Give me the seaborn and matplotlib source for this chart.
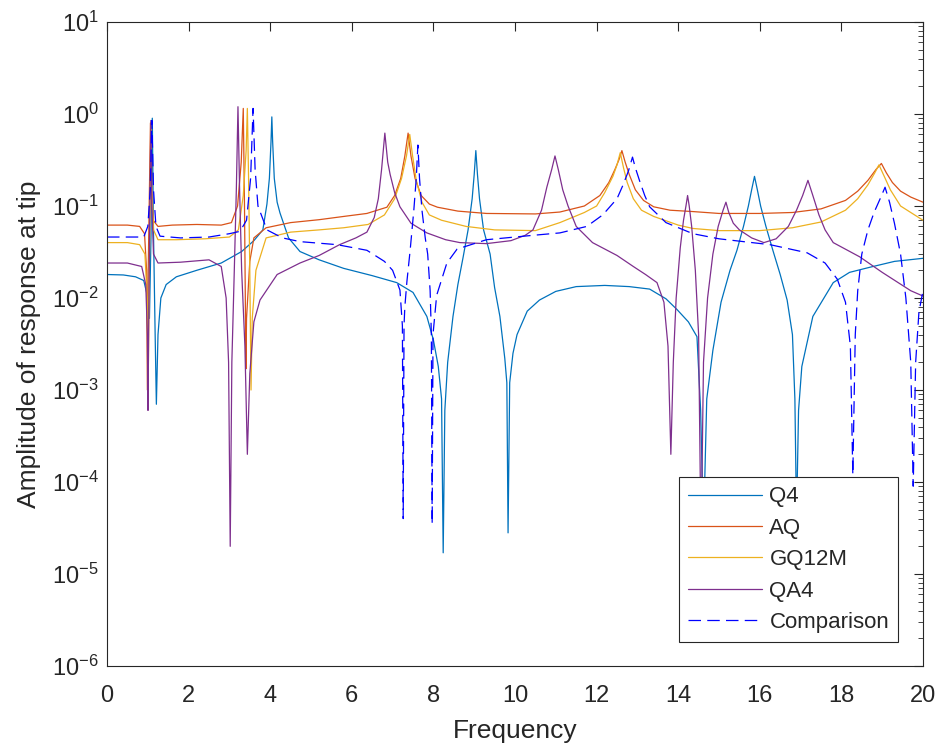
import numpy as np
import matplotlib
matplotlib.use("Agg")
import matplotlib.pyplot as plt
import seaborn as sns
from matplotlib.ticker import LogLocator, NullFormatter

# ---------------- data ----------------
q4_f = [0.0, 0.4, 0.7, 0.9, 0.98, 1.04, 1.08, 1.11, 1.14, 1.18, 1.21, 1.25, 1.32, 1.45, 1.7,
        2.2, 2.8, 3.3, 3.6, 3.82, 3.92, 3.98, 4.02, 4.04, 4.06, 4.1, 4.17, 4.24, 4.45, 4.73,
        5.2, 5.8, 6.5, 7.1, 7.5, 7.84, 8.0, 8.12, 8.2, 8.24, 8.28, 8.35, 8.48, 8.6, 8.73,
        8.85, 8.95, 9.0, 9.04, 9.08, 9.13, 9.23, 9.39, 9.5, 9.63, 9.75, 9.8, 9.83, 9.87, 9.95,
        10.05, 10.3, 10.6, 11.0, 11.5, 12.2, 12.8, 13.3, 13.7, 13.97, 14.25, 14.46, 14.55,
        14.62, 14.7, 14.85, 15.05, 15.27, 15.44, 15.6, 15.72, 15.8, 15.87, 15.94, 16.02,
        16.15, 16.32, 16.5, 16.67, 16.8, 16.86, 16.9, 16.95, 17.03, 17.3, 17.8, 18.2, 18.7,
        19.3, 20.0]
q4_v = [0.018, 0.0178, 0.017, 0.0155, 0.011, 0.006, 0.05, 0.9, 0.05, 0.004, 0.0007, 0.004,
        0.01, 0.014, 0.017, 0.02, 0.024, 0.032, 0.042, 0.055, 0.105, 0.2, 0.5, 0.93, 0.5,
        0.2, 0.11, 0.084, 0.045, 0.032, 0.026, 0.021, 0.0175, 0.0147, 0.0115, 0.0063, 0.0035,
        0.0018, 0.0008, 1.7e-5, 0.0006, 0.002, 0.0063, 0.014, 0.028, 0.055, 0.12, 0.22, 0.4,
        0.22, 0.12, 0.055, 0.03, 0.013, 0.0063, 0.0022, 0.0012, 2.8e-5, 0.0012, 0.0025,
        0.004, 0.0072, 0.0095, 0.0118, 0.0133, 0.0137, 0.0133, 0.0125, 0.0098, 0.0075, 0.0055,
        0.0038, 0.0006, 3e-5, 0.0008, 0.0027, 0.009, 0.02, 0.033, 0.06, 0.1, 0.15, 0.21, 0.15,
        0.1, 0.06, 0.033, 0.018, 0.0095, 0.004, 0.0008, 4e-5, 0.0006, 0.0018, 0.0063, 0.0147,
        0.019, 0.0216, 0.025, 0.027]

aq_f = [0.0, 0.5, 0.8, 0.92, 0.97, 0.99, 1.01, 1.04, 1.065, 1.09, 1.13, 1.25, 1.6, 2.2, 2.8,
        3.05, 3.2, 3.29, 3.34, 3.37, 3.39, 3.405, 3.42, 3.5, 3.6, 3.9, 4.5, 5.2, 5.8, 6.37,
        6.86, 7.05, 7.2, 7.3, 7.38, 7.45, 7.55, 7.7, 7.9, 8.1, 8.6, 9.3, 10.5, 11.1, 11.7,
        12.08, 12.3, 12.45, 12.55, 12.62, 12.7, 12.8, 12.95, 13.15, 13.4, 13.8, 14.36, 15.0,
        16.0, 16.8, 17.5, 18.1, 18.4, 18.65, 18.85, 18.98, 19.1, 19.25, 19.45, 19.7, 20.0]
aq_v = [0.062, 0.062, 0.06, 0.05, 0.02, 0.001, 0.02, 0.15, 0.8, 0.15, 0.07, 0.06, 0.062,
        0.063, 0.062, 0.066, 0.1, 0.3, 1.15, 0.1, 0.01, 0.0017, 0.006, 0.025, 0.045, 0.058,
        0.066, 0.071, 0.077, 0.083, 0.097, 0.13, 0.2, 0.35, 0.62, 0.35, 0.2, 0.13, 0.105,
        0.097, 0.088, 0.083, 0.082, 0.086, 0.1, 0.13, 0.18, 0.25, 0.32, 0.4, 0.3, 0.22, 0.15,
        0.115, 0.098, 0.09, 0.087, 0.083, 0.083, 0.085, 0.093, 0.115, 0.145, 0.19, 0.25,
        0.29, 0.23, 0.18, 0.145, 0.125, 0.11]

gq_f = [0.0, 0.5, 0.8, 0.93, 0.985, 1.01, 1.03, 1.06, 1.08, 1.1, 1.14, 1.25, 1.7, 2.4, 3.0,
        3.22, 3.34, 3.41, 3.44, 3.47, 3.5, 3.53, 3.56, 3.65, 3.9, 4.5, 5.2, 5.8, 6.4, 6.8,
        7.05, 7.22, 7.34, 7.42, 7.49, 7.58, 7.72, 7.9, 8.2, 8.8, 9.5, 10.5, 11.1, 11.7, 12.0,
        12.2, 12.4, 12.5, 12.58, 12.66, 12.75, 12.9, 13.1, 13.4, 14.0, 14.36, 15.0, 16.0,
        16.8, 17.5, 18.1, 18.4, 18.65, 18.82, 18.92, 19.05, 19.2, 19.45, 19.7, 20.0]
gq_v = [0.04, 0.04, 0.038, 0.03, 0.01, 0.0012, 0.01, 0.15, 0.75, 0.15, 0.055, 0.043, 0.043,
        0.044, 0.046, 0.055, 0.13, 0.4, 1.15, 0.2, 0.02, 0.001, 0.006, 0.02, 0.045, 0.052,
        0.055, 0.058, 0.063, 0.08, 0.12, 0.2, 0.35, 0.6, 0.35, 0.19, 0.11, 0.08, 0.07, 0.06,
        0.055, 0.054, 0.066, 0.085, 0.1, 0.14, 0.21, 0.28, 0.38, 0.26, 0.18, 0.12, 0.09,
        0.077, 0.062, 0.057, 0.054, 0.054, 0.058, 0.067, 0.09, 0.12, 0.17, 0.23, 0.28, 0.21,
        0.15, 0.1, 0.085, 0.07]

qa_f = [0.0, 0.5, 0.85, 0.95, 0.99, 1.005, 1.02, 1.05, 1.075, 1.1, 1.14, 1.25, 1.8, 2.5, 2.8,
        2.92, 2.98, 3.02, 3.06, 3.12, 3.17, 3.21, 3.25, 3.3, 3.38, 3.44, 3.5, 3.6, 3.75, 4.17,
        4.73, 5.2, 5.7, 6.1, 6.37, 6.55, 6.65, 6.73, 6.81, 6.88, 6.94, 7.05, 7.18, 7.45, 7.84,
        8.3, 8.65, 9.3, 9.9, 10.25, 10.44, 10.65, 10.78, 10.9, 10.98, 11.06, 11.17, 11.3,
        11.5, 11.9, 12.5, 12.9, 13.2, 13.48, 13.65, 13.75, 13.82, 13.88, 13.95, 14.05, 14.13,
        14.19, 14.23, 14.27, 14.33, 14.42, 14.5, 14.56, 14.62, 14.72, 14.85, 14.98, 15.1,
        15.17, 15.24, 15.35, 15.5, 15.8, 16.1, 16.4, 16.7, 16.9, 17.05, 17.18, 17.3, 17.45,
        17.6, 17.8, 18.45, 19.0, 19.7, 20.0]
qa_v = [0.024, 0.024, 0.022, 0.014, 0.004, 0.0006, 0.004, 0.1, 0.85, 0.1, 0.03, 0.024,
        0.0245, 0.026, 0.022, 0.01, 0.002, 2e-5, 0.002, 0.02, 0.15, 1.2, 0.15, 0.02, 0.003,
        0.0002, 0.0015, 0.0055, 0.0095, 0.018, 0.024, 0.029, 0.038, 0.045, 0.052, 0.075,
        0.12, 0.25, 0.62, 0.3, 0.22, 0.14, 0.098, 0.065, 0.051, 0.043, 0.04, 0.039, 0.042,
        0.048, 0.055, 0.09, 0.16, 0.25, 0.35, 0.25, 0.15, 0.1, 0.06, 0.04, 0.029, 0.022,
        0.018, 0.0147, 0.009, 0.003, 0.0002, 0.002, 0.01, 0.035, 0.07, 0.1, 0.13, 0.1, 0.06,
        0.02, 0.004, 2e-5, 0.002, 0.01, 0.03, 0.06, 0.09, 0.11, 0.085, 0.065, 0.055, 0.045,
        0.04, 0.044, 0.06, 0.09, 0.13, 0.19, 0.13, 0.08, 0.055, 0.04, 0.028, 0.019, 0.012,
        0.0105]

cmp_f = [0.0, 0.5, 0.9, 1.0, 1.06, 1.1, 1.14, 1.2, 1.3, 1.8, 2.5, 3.0, 3.26, 3.42, 3.52, 3.58,
         3.63, 3.7, 3.92, 4.3, 4.73, 5.64, 6.37, 6.8, 7.0, 7.18, 7.24, 7.26, 7.28, 7.3, 7.35,
         7.43, 7.52, 7.58, 7.62, 7.66, 7.72, 7.8, 7.86, 7.92, 7.95, 7.97, 7.99, 8.08, 8.33,
         8.58, 9.3, 10.44, 11.1, 11.76, 12.15, 12.5, 12.65, 12.78, 12.88, 12.95, 13.05, 13.18,
         13.3, 13.7, 14.36, 15.0, 15.6, 16.25, 17.16, 17.6, 17.9, 18.1, 18.22, 18.28, 18.34,
         18.4, 18.5, 18.65, 18.8, 18.95, 19.07, 19.18, 19.3, 19.45, 19.58, 19.7, 19.76, 19.82,
         19.9, 20.0]
cmp_v = [0.046, 0.046, 0.046, 0.06, 0.15, 0.85, 0.15, 0.06, 0.047, 0.045, 0.046, 0.05, 0.053,
         0.07, 0.2, 1.15, 0.25, 0.1, 0.055, 0.045, 0.041, 0.038, 0.033, 0.025, 0.02, 0.0122,
         0.005, 4e-5, 0.005, 0.008, 0.015, 0.033, 0.09, 0.2, 0.46, 0.2, 0.09, 0.045, 0.03,
         0.012, 0.004, 3.5e-5, 0.004, 0.0107, 0.024, 0.034, 0.043, 0.048, 0.051, 0.06, 0.08,
         0.12, 0.17, 0.24, 0.34, 0.26, 0.19, 0.13, 0.098, 0.066, 0.05, 0.044, 0.041, 0.038,
         0.031, 0.024, 0.016, 0.009, 0.003, 1.2e-4, 0.004, 0.012, 0.03, 0.055, 0.085, 0.12,
         0.16, 0.11, 0.065, 0.03, 0.01, 0.002, 9e-5, 0.002, 0.007, 0.012]

labels = ["Q4", "AQ", "GQ12M", "QA4", "Comparison"]
colors = ["#0072BD", "#D95319", "#EDB120", "#7E2F8E", "#0000FF"]
styles = ["-", "-", "-", "-", (0, (10, 5))]
x_ticks = [0, 2, 4, 6, 8, 10, 12, 14, 16, 18, 20]

# ---------------- styling ----------------
sns.set_theme(style="white")
plt.rcParams["font.family"] = ["Liberation Sans", "DejaVu Sans"]
plt.rcParams["mathtext.default"] = "regular"
plt.rcParams["axes.unicode_minus"] = False

fig = plt.figure(figsize=(9.42, 7.49), dpi=100)
ax = fig.add_axes([107 / 942, 83 / 749, 816 / 942, 644 / 749])

data = [(q4_f, q4_v), (aq_f, aq_v), (gq_f, gq_v), (qa_f, qa_v), (cmp_f, cmp_v)]
for (f, v), name, c, ls in zip(data, labels, colors, styles):
    sns.lineplot(x=f, y=v, ax=ax, color=c, linewidth=0.9, linestyle=ls,
                 label=name, estimator=None, sort=False)

ax.set_yscale("log")
ax.set_xlim(0, 20)
ax.set_ylim(1e-6, 10)
ax.set_xticks(x_ticks)
ax.set_xticklabels([str(t) for t in x_ticks])
ax.yaxis.set_major_locator(LogLocator(base=10, numticks=20))
ax.yaxis.set_minor_locator(LogLocator(base=10, subs=np.arange(2, 10), numticks=100))
ax.yaxis.set_minor_formatter(NullFormatter())

dark = "#262626"
ax.tick_params(which="both", direction="in", top=True, right=True,
               colors=dark, labelsize=17)
ax.tick_params(axis="x", which="major", pad=14)
ax.tick_params(axis="y", which="major", pad=6)
ax.tick_params(which="major", length=6.5, width=0.8)
ax.tick_params(which="minor", length=3.5, width=0.6)
for s in ax.spines.values():
    s.set_visible(True)
    s.set_color(dark)
    s.set_linewidth(0.8)

ax.set_xlabel("Frequency", fontsize=19, color=dark, labelpad=8)
ax.set_ylabel("Amplitude of response at tip", fontsize=19, color=dark, labelpad=8)

leg = ax.legend(loc="lower right", bbox_to_anchor=(0.9694, 0.0373), borderaxespad=0,
                fontsize=16, frameon=True, fancybox=False, framealpha=1,
                edgecolor=dark, handlelength=3.3, handletextpad=0.35,
                labelspacing=0.47, borderpad=0.4)
leg.get_frame().set_linewidth(0.8)
for t in leg.get_texts():
    t.set_color(dark)

fig.savefig("out.png", dpi=100)
